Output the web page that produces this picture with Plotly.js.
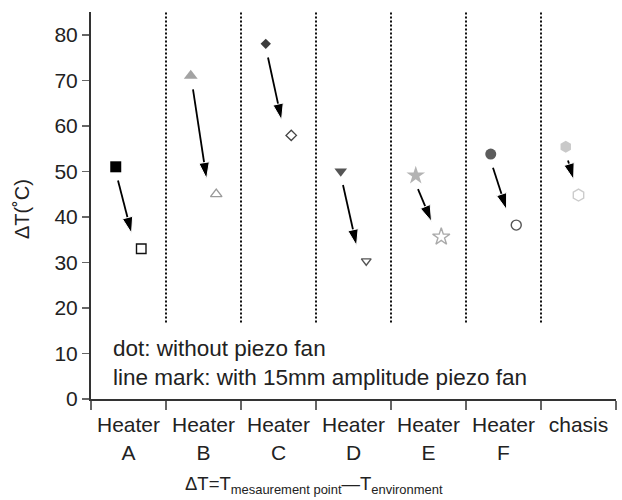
<!DOCTYPE html>
<html>
<head>
<meta charset="utf-8">
<script src="https://cdn.plot.ly/plotly-3.0.1.min.js"></script>
<style>html,body{margin:0;padding:0;background:#fff;}#chart{width:622px;height:500px;}</style>
</head>
<body>
<div id="chart"></div>
<script>
// ---- data ----
const categories = ["Heater<br>A", "Heater<br>B", "Heater<br>C", "Heater<br>D", "Heater<br>E", "Heater<br>F", "chasis"];
const withoutFan = [51, 71, 78, 50, 49.1, 53.8, 55.4];   // dot: without piezo fan
const withFan    = [33, 45, 57.9, 30.3, 35.6, 38.2, 44.8]; // line mark: with 15mm amplitude piezo fan
const yTicks = [0, 10, 20, 30, 40, 50, 60, 70, 80];

// ---- styles ----
const filledSymbols = ["square", "triangle-up", "diamond", "triangle-down", "star", "circle", "hexagon"];
const filledColors  = ["#000000", "#a3a3a3", "#3c3c3c", "#555555", "#b3b3b3", "#5c5c5c", "#c9c9c9"];
const filledSizes   = [11, 12, 8, 11, 14, 11, 12];
const openSymbols = filledSymbols.map(s => s + "-open");
const openColors  = ["#111111", "#9a9a9a", "#444444", "#555555", "#aaaaaa", "#555555", "#cccccc"];
const openSizes   = [9.5, 10, 8, 8.5, 13, 10, 12];
const filledOffset = 0.33;
const openOffset = [0.67, 0.67, 0.67, 0.67, 0.67, 0.67, 0.5];

const n = categories.length;
const idx = categories.map((_, i) => i);
const xFilled = idx.map(i => i + filledOffset);
const xOpen = idx.map(i => i + openOffset[i]);

// arrows derived from the two points of each group
const ax = [], ay = [], asz = [];
idx.forEach(i => {
  const x1 = xFilled[i], y1 = withoutFan[i], x2 = xOpen[i], y2 = withFan[i];
  const dx = x2 - x1;
  ax.push(x1 + 0.03, x1 + 0.62 * dx, null);
  ay.push(y1 - 3, y2 + 3.4, null);
  asz.push(0, 17, 0);
});

const traces = [
  {
    type: "scatter", mode: "lines+markers", x: ax, y: ay,
    line: {color: "#000", width: 1.8, backoff: 9},
    marker: {symbol: "arrow", size: asz, color: "#000", opacity: 1, angleref: "previous"},
    hoverinfo: "skip", showlegend: false, connectgaps: false
  },
  {
    type: "scatter", mode: "markers", x: xFilled, y: withoutFan,
    marker: {symbol: filledSymbols, color: filledColors, size: filledSizes, opacity: 1, line: {width: 0}},
    showlegend: false
  },
  {
    type: "scatter", mode: "markers", x: xOpen, y: withFan,
    marker: {symbol: openSymbols, color: openColors, size: openSizes, opacity: 1, line: {width: 1.4, color: openColors}},
    showlegend: false
  }
];

const boundaries = Array.from({length: n + 1}, (_, i) => i);
const shapes = boundaries.slice(1, n).map(b => ({
  type: "line", xref: "x", yref: "y", x0: b, x1: b, y0: 16.8, y1: 85,
  line: {color: "#111", width: 2, dash: "2px,2px"}
}));

const font = "Liberation Sans, Arial, Helvetica, sans-serif";
const layout = {
  width: 622, height: 500,
  margin: {l: 91, r: 6, t: 12, b: 101},
  paper_bgcolor: "#fff", plot_bgcolor: "#fff",
  font: {family: font, color: "#222"},
  showlegend: false,
  xaxis: {
    range: [0, n], tickmode: "array",
    tickvals: idx.map(i => i + 0.5), ticktext: categories,
    ticks: "", showgrid: false, zeroline: false,
    showline: true, linecolor: "#333", linewidth: 2,
    tickfont: {size: 21, color: "#222"},
    ticklabelstandoff: 6,
    minor: {tickmode: "array", tickvals: boundaries, ticks: "outside", ticklen: 9, tickwidth: 1.5, tickcolor: "#666", showgrid: false},
    fixedrange: true
  },
  yaxis: {
    range: [0, 85], tickmode: "array", tickvals: yTicks,
    ticks: "outside", ticklen: 7, tickwidth: 1.5, tickcolor: "#666",
    showgrid: false, zeroline: false,
    showline: true, linecolor: "#333", linewidth: 2,
    tickfont: {size: 21, color: "#222"},
    fixedrange: true
  },
  shapes: shapes,
  annotations: [
    {xref: "paper", yref: "paper", x: -0.13, y: 0.49, xanchor: "center", yanchor: "middle", showarrow: false,
     textangle: -90, text: "ΔT(˚C)", font: {size: 20, color: "#222"}},
    {xref: "x", yref: "y", x: 0.26, y: 11, xanchor: "left", yanchor: "middle", showarrow: false,
     text: "dot: without piezo fan", font: {size: 22.5, color: "#222"}},
    {xref: "x", yref: "y", x: 0.26, y: 4.7, xanchor: "left", yanchor: "middle", showarrow: false,
     text: "line mark: with 15mm amplitude piezo fan", font: {size: 22.5, color: "#222"}},
    {xref: "paper", yref: "paper", x: 0.424, y: -0.222, xanchor: "center", yanchor: "middle", showarrow: false,
     text: "ΔT=T<sub>mesaurement point</sub>—T<sub>environment</sub>", font: {size: 18.5, color: "#222"}}
  ]
};

Plotly.newPlot("chart", traces, layout, {displayModeBar: false, staticPlot: true});
</script>
</body>
</html>
